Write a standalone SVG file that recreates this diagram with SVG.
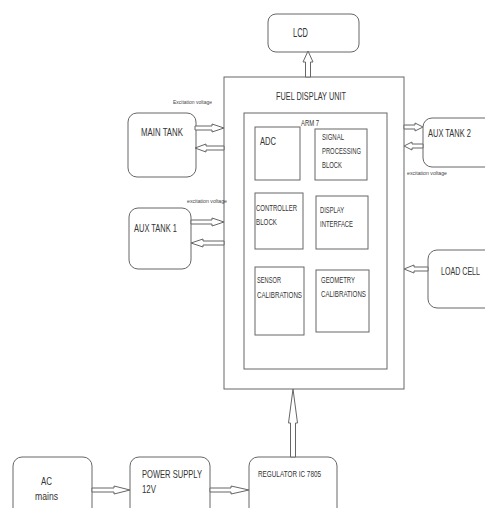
<svg xmlns="http://www.w3.org/2000/svg" width="485" height="508" viewBox="0 0 485 508">
<style>
.box{fill:#fff;stroke:#666;stroke-width:1}
.arr{fill:#fff;stroke:#666;stroke-width:1;stroke-linejoin:miter}
.t{font-family:"Liberation Sans",Arial,sans-serif;fill:#333;font-size:11px}
.s{font-family:"Liberation Sans",Arial,sans-serif;fill:#444;font-size:5.5px}
.m{font-family:"Liberation Sans",Arial,sans-serif;fill:#333;font-size:9.5px}
</style>
<rect width="485" height="508" fill="#fff"/>
<g id="fuel-display-unit">
<rect class="box" x="224" y="77" width="180" height="312"/>
<text class="t" x="276" y="100" textLength="70" lengthAdjust="spacingAndGlyphs">FUEL DISPLAY UNIT</text>
</g>
<g id="arm7">
<rect class="box" x="244" y="113" width="143" height="256"/>
<text class="m" x="301" y="126" textLength="18" lengthAdjust="spacingAndGlyphs">ARM 7</text>
</g>
<g id="adc">
<rect class="box" x="255" y="127" width="45" height="53"/>
<text class="t" x="260" y="145" textLength="16" lengthAdjust="spacingAndGlyphs">ADC</text>
</g>
<g id="signal-processing">
<rect class="box" x="315" y="129" width="52" height="51"/>
<text class="m" x="322" y="140" textLength="22" lengthAdjust="spacingAndGlyphs">SIGNAL</text>
<text class="m" x="322" y="154" textLength="39" lengthAdjust="spacingAndGlyphs">PROCESSING</text>
<text class="m" x="322" y="168" textLength="20" lengthAdjust="spacingAndGlyphs">BLOCK</text>
</g>
<g id="controller-block">
<rect class="box" x="255" y="193" width="48" height="56"/>
<text class="m" x="256" y="211" textLength="41" lengthAdjust="spacingAndGlyphs">CONTROLLER</text>
<text class="m" x="256" y="225" textLength="21" lengthAdjust="spacingAndGlyphs">BLOCK</text>
</g>
<g id="display-interface">
<rect class="box" x="316" y="196" width="52" height="53"/>
<text class="m" x="320" y="213" textLength="24" lengthAdjust="spacingAndGlyphs">DISPLAY</text>
<text class="m" x="320" y="227" textLength="33" lengthAdjust="spacingAndGlyphs">INTERFACE</text>
</g>
<g id="sensor-calibrations">
<rect class="box" x="255" y="267" width="49" height="68"/>
<text class="m" x="257" y="283" textLength="24" lengthAdjust="spacingAndGlyphs">SENSOR</text>
<text class="m" x="257" y="298" textLength="45" lengthAdjust="spacingAndGlyphs">CALIBRATIONS</text>
</g>
<g id="geometry-calibrations">
<rect class="box" x="316" y="270" width="53" height="62"/>
<text class="m" x="321" y="283" textLength="34" lengthAdjust="spacingAndGlyphs">GEOMETRY</text>
<text class="m" x="321" y="297" textLength="45" lengthAdjust="spacingAndGlyphs">CALIBRATIONS</text>
</g>
<g id="lcd">
<rect class="box" x="268" y="14" width="91" height="38" rx="8"/>
<text class="t" x="293" y="37" style="font-size:13px" textLength="15" lengthAdjust="spacingAndGlyphs">LCD</text>
</g>
<g id="main-tank">
<rect class="box" x="128" y="113" width="68" height="64" rx="9"/>
<text class="t" x="141" y="136" textLength="42" lengthAdjust="spacingAndGlyphs">MAIN TANK</text>
</g>
<g id="aux-tank-1">
<rect class="box" x="129" y="208" width="62" height="61" rx="9"/>
<text class="t" x="134" y="232" textLength="43" lengthAdjust="spacingAndGlyphs">AUX TANK 1</text>
</g>
<g id="aux-tank-2">
<rect class="box" x="423" y="118" width="75" height="49" rx="9"/>
<text class="t" x="428" y="137" textLength="43" lengthAdjust="spacingAndGlyphs">AUX TANK 2</text>
</g>
<g id="load-cell">
<rect class="box" x="428" y="250" width="70" height="58" rx="9"/>
<text class="t" x="441" y="275" textLength="39" lengthAdjust="spacingAndGlyphs">LOAD CELL</text>
</g>
<g id="ac-mains">
<rect class="box" x="13" y="457" width="79" height="60" rx="9"/>
<text class="t" x="41" y="485" textLength="11" lengthAdjust="spacingAndGlyphs">AC</text>
<text class="t" x="35" y="500" textLength="23" lengthAdjust="spacingAndGlyphs">mains</text>
</g>
<g id="power-supply">
<rect class="box" x="130" y="457" width="80" height="60" rx="9"/>
<text class="t" x="142" y="478" textLength="60" lengthAdjust="spacingAndGlyphs">POWER SUPPLY</text>
<text class="t" x="142" y="493" textLength="14" lengthAdjust="spacingAndGlyphs">12V</text>
</g>
<g id="regulator">
<rect class="box" x="249" y="457" width="88" height="60" rx="9"/>
<text class="m" x="258" y="477" textLength="63" lengthAdjust="spacingAndGlyphs">REGULATOR IC 7805</text>
</g>
<g id="labels">
<text class="s" x="173" y="104" textLength="39" lengthAdjust="spacingAndGlyphs">Excitation voltage</text>
<text class="s" x="187" y="203" textLength="40" lengthAdjust="spacingAndGlyphs">excitation voltage</text>
<text class="s" x="407" y="175" textLength="40" lengthAdjust="spacingAndGlyphs">excitation voltage</text>
</g>
<g id="connectors">
<polygon class="arr" points="305.5,77 305.5,62 303,62 308,51 313,62 310.5,62 310.5,77"/>
<polygon class="arr" points="195,126 212,126 212,124 224,128 212,132 212,130 195,130"/>
<polygon class="arr" points="224,146 206,146 206,144 195,148 206,152 206,150 224,150"/>
<polygon class="arr" points="191,220 212,220 212,218 224,222 212,226 212,224 191,224"/>
<polygon class="arr" points="224,241 203,241 203,239 191,243 203,247 203,245 224,245"/>
<polygon class="arr" points="404,125 415,125 415,123 423,127 415,131 415,129 404,129"/>
<polygon class="arr" points="423,144 412,144 412,142 404,146 412,150 412,148 423,148"/>
<polygon class="arr" points="428,267 414,267 414,265 404,269 414,273 414,271 428,271"/>
<polygon class="arr" points="92,488 114,488 114,486 130,490 114,494 114,492 92,492"/>
<polygon class="arr" points="210,488 231,488 231,486 249,490 231,494 231,492 210,492"/>
<polygon class="arr" points="290.5,457 290.5,423 288.5,423 293,389 297.5,423 295.5,423 295.5,457"/>
</g>
</svg>
